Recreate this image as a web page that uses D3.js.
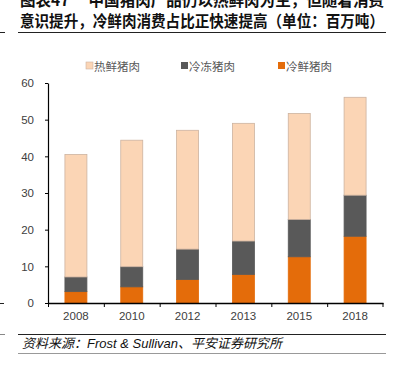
<!DOCTYPE html>
<html><head><meta charset="utf-8">
<script src="https://cdn.jsdelivr.net/npm/d3@7"></script>
<style>
body{margin:0;background:#fff;}
svg{display:block;}
</style>
</head><body>
<script>
const years = ["2008","2010","2012","2013","2015","2018"];
const chilled = [3.1, 4.4, 6.4, 7.8, 12.6, 18.2];      // 冷鲜猪肉
const frozen = [4.0, 5.5, 8.3, 9.1, 10.2, 11.2];       // 冷冻猪肉
const hotFresh = [33.4, 34.5, 32.4, 32.1, 28.9, 26.7]; // 热鲜猪肉
const yTicks = [0, 10, 20, 30, 40, 50, 60];
const seriesNames = ["冷鲜猪肉", "冷冻猪肉", "热鲜猪肉"];
const legendOrder = ["热鲜猪肉", "冷冻猪肉", "冷鲜猪肉"];
const colors = {"冷鲜猪肉": "#E46C0A", "冷冻猪肉": "#595959", "热鲜猪肉": "#FBD5B5"};
const strokes = {"冷鲜猪肉": "#E46C0A", "冷冻猪肉": "#595959", "热鲜猪肉": "#CDB3A0"};

const W = 395, H = 370;
const svg = d3.select("body").append("svg").attr("width", W).attr("height", H);
const cjk = "'Noto Sans CJK SC', sans-serif";
const lat = "'Liberation Sans', Arial, sans-serif";

// Title
svg.append("text").attr("x", 20).attr("y", 6).attr("font-family", cjk).attr("font-weight", "bold")
  .attr("font-size", 16).attr("fill", "#111").attr("textLength", 364).attr("lengthAdjust", "spacingAndGlyphs")
  .text("图表47　 中国猪肉产品仍以热鲜肉为主，但随着消费");
svg.append("text").attr("x", 20).attr("y", 27).attr("font-family", cjk).attr("font-weight", "bold")
  .attr("font-size", 16).attr("fill", "#111").attr("textLength", 364).attr("lengthAdjust", "spacingAndGlyphs")
  .text("意识提升，冷鲜肉消费占比正快速提高（单位：百万吨）");
svg.append("line").attr("x1", 18).attr("x2", 386).attr("y1", 32.5).attr("y2", 32.5).attr("stroke", "#222").attr("stroke-width", 1);
// left edge fragments
svg.append("line").attr("x1", 0).attr("x2", 5).attr("y1", 32.5).attr("y2", 32.5).attr("stroke", "#222");
svg.append("line").attr("x1", 0).attr("x2", 4).attr("y1", 303.5).attr("y2", 303.5).attr("stroke", "#222");
svg.append("line").attr("x1", 0).attr("x2", 5).attr("y1", 334.5).attr("y2", 334.5).attr("stroke", "#888");

// Scales
const xb = d3.scaleBand().domain(years).range([48, 383]);
const y = d3.scaleLinear().domain([0, 60]).range([303, 83]);

const table = years.map((yr, i) => ({year: yr, "冷鲜猪肉": chilled[i], "冷冻猪肉": frozen[i], "热鲜猪肉": hotFresh[i]}));
const stacked = d3.stack().keys(seriesNames)(table);

const barW = 22;
svg.append("g").selectAll("g").data(stacked).join("g")
  .attr("fill", d => colors[d.key]).attr("stroke", d => strokes[d.key]).attr("stroke-width", 0.8)
  .selectAll("rect").data(d => d).join("rect")
  .attr("x", d => xb(d.data.year) + xb.bandwidth() / 2 - barW / 2)
  .attr("width", barW)
  .attr("y", d => y(d[1]))
  .attr("height", d => y(d[0]) - y(d[1]));

// Y axis
const yAxis = svg.append("g").attr("transform", "translate(48,0)")
  .call(d3.axisLeft(y).tickValues(yTicks).tickSize(3).tickSizeOuter(0));
yAxis.select(".domain").attr("stroke", "#000").attr("stroke-width", 1.2);
yAxis.selectAll(".tick line").attr("stroke", "#000");
yAxis.selectAll("text").attr("font-family", lat).attr("font-size", 11.5).attr("fill", "#404040").attr("x", -14);

// X axis
const xAxis = svg.append("g").attr("transform", "translate(0,303)")
  .call(d3.axisBottom(xb).tickSize(0).tickSizeOuter(0));
xAxis.select(".domain").attr("stroke", "#000").attr("stroke-width", 1.4);
xAxis.selectAll("text").attr("font-family", lat).attr("font-size", 11.5).attr("fill", "#404040").attr("dy", "1.25em");
// category separator ticks
svg.append("g").selectAll("line").data(years).join("line")
  .attr("x1", d => xb(d) + 0.5).attr("x2", d => xb(d) + 0.5)
  .attr("y1", 303).attr("y2", 307).attr("stroke", "#000");
svg.append("line").attr("x1", 383).attr("x2", 383).attr("y1", 303).attr("y2", 307).attr("stroke", "#000");

// Legend
const legX = [88, 183, 280];
const leg = svg.append("g").selectAll("g").data(legendOrder).join("g")
  .attr("transform", (d, i) => `translate(${legX[i]},66)`);
leg.append("rect").attr("x", -2).attr("y", -4).attr("width", 7).attr("height", 7)
  .attr("fill", d => colors[d]).attr("stroke", d => d === "热鲜猪肉" ? "#CDB3A0" : "none").attr("stroke-width", 0.6);
leg.append("text").attr("x", 6).attr("y", 4.5).attr("font-family", cjk).attr("font-size", 11.5).attr("fill", "#595959")
  .text(d => d);

// Footer
svg.append("line").attr("x1", 18).attr("x2", 386).attr("y1", 334.5).attr("y2", 334.5).attr("stroke", "#222");
svg.append("text").attr("x", 22).attr("y", 348).attr("font-family", "'Liberation Sans', 'Noto Sans CJK SC', sans-serif")
  .attr("font-style", "italic").attr("font-size", 13).attr("fill", "#111")
  .text("资料来源：Frost & Sullivan、平安证券研究所");
svg.append("line").attr("x1", 18).attr("x2", 386).attr("y1", 353.5).attr("y2", 353.5).attr("stroke", "#999");
</script>
</body></html>
